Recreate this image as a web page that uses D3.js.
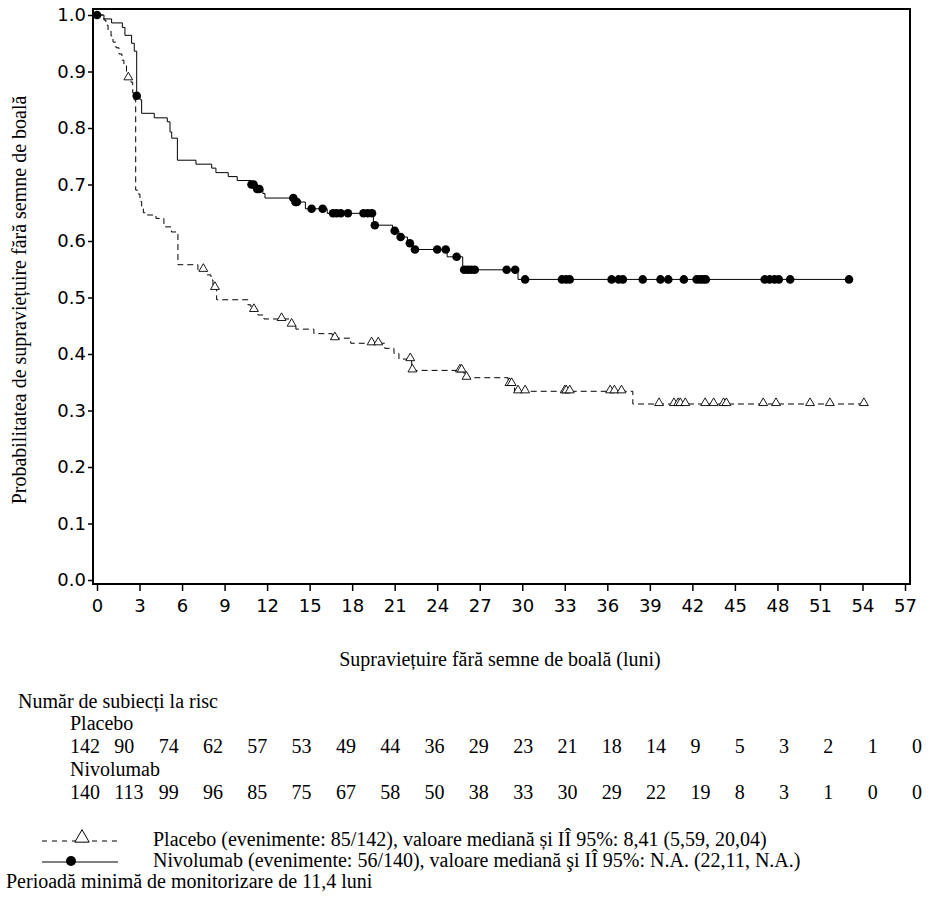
<!DOCTYPE html>
<html>
<head>
<meta charset="utf-8">
<script src="https://cdn.jsdelivr.net/npm/d3@7"></script>
<style>
  body { margin: 0; background: #fff; }
</style>
</head>
<body>
<div id="chart"></div>
<script>
// tick labels
const xTicks = [0, 3, 6, 9, 12, 15, 18, 21, 24, 27, 30, 33, 36, 39, 42, 45, 48, 51, 54, 57];
const yTicks = [0.0, 0.1, 0.2, 0.3, 0.4, 0.5, 0.6, 0.7, 0.8, 0.9, 1.0];

// Nivolumab: event times and survival after each step
const nivoTimes = [0.49, 1.03, 1.79, 1.97, 2.44, 2.63, 2.80, 3.03, 3.15, 4.04, 4.96, 5.15, 5.27, 5.67, 6.98, 8.09, 8.39, 9.26, 9.89,
  10.85, 11.2, 11.7, 11.85, 13.9, 14.7, 16.24, 19.5, 20.85, 21.3, 21.9, 22.3, 24.7, 25.8, 29.7];
const nivoSurv = [0.993, 0.986, 0.978, 0.964, 0.950, 0.936, 0.857, 0.850, 0.826, 0.818, 0.811, 0.793, 0.782, 0.743, 0.736, 0.729, 0.721, 0.714, 0.707,
  0.700, 0.692, 0.684, 0.676, 0.669, 0.657, 0.649, 0.628, 0.618, 0.607, 0.596, 0.585, 0.572, 0.549, 0.532];
const nivoCensored = [0, 2.8, 10.9, 11.05, 11.3, 11.45, 13.85, 14.0, 14.1, 15.14, 15.92, 16.65, 16.9, 17.2, 17.7, 18.8, 19.1, 19.4, 19.6,
  21.0, 21.42, 22.07, 22.43, 24.0, 24.6, 25.37, 25.9, 26.15, 26.4, 26.65, 28.9, 29.5, 30.2, 32.8, 33.1, 33.35, 36.3, 36.8, 37.1,
  38.5, 39.75, 40.3, 41.4, 42.3, 42.55, 42.75, 42.95, 47.1, 47.45, 47.8, 48.1, 48.9, 53.05];

// Placebo
const placTimes = [0.49, 0.63, 0.78, 0.99, 1.13, 1.34, 1.55, 1.76, 1.90, 2.08, 2.15, 2.40, 2.52, 2.62, 2.73, 2.92, 3.03, 3.15, 3.27, 3.55,
  4.16, 4.72, 5.25, 5.71, 7.12, 7.7, 8.04, 8.18, 8.44, 10.65, 10.86, 11.35, 11.78, 13.6, 14.03, 15.3, 16.6, 17.9, 20.3, 20.95, 21.3,
  22.2, 25.9, 29.0, 29.45, 37.8];
const placSurv = [0.991, 0.982, 0.973, 0.963, 0.952, 0.942, 0.931, 0.920, 0.910, 0.899, 0.888, 0.881, 0.862, 0.850, 0.690, 0.683, 0.670, 0.658, 0.650, 0.646,
  0.640, 0.625, 0.616, 0.558, 0.549, 0.540, 0.531, 0.517, 0.496, 0.487, 0.478, 0.469, 0.462, 0.452, 0.444, 0.436, 0.428, 0.419, 0.410, 0.401, 0.391,
  0.371, 0.358, 0.347, 0.334, 0.3115];
const placCensored = [2.21, 7.5, 8.32, 11.07, 13.02, 13.73, 16.78, 19.37, 19.84, 22.1, 22.25, 25.6, 25.72, 26.07, 29.1, 29.25, 29.7, 30.2,
  33.0, 33.1, 33.35, 36.2, 36.5, 37.0, 39.65, 40.7, 41.0, 41.15, 41.5, 42.9, 43.5, 44.2, 44.4, 47.0, 47.9, 50.3, 51.7, 54.1];

// number at risk
const riskPlacebo = [142, 90, 74, 62, 57, 53, 49, 44, 36, 29, 23, 21, 18, 14, 9, 5, 3, 2, 1, 0];
const riskNivo = [140, 113, 99, 96, 85, 75, 67, 58, 50, 38, 33, 30, 29, 22, 19, 8, 3, 1, 0, 0];

const legendPlacebo = "Placebo (evenimente: 85/142), valoare mediană și IÎ 95%: 8,41 (5,59, 20,04)";
const legendNivo = "Nivolumab (evenimente: 56/140), valoare mediană şi IÎ 95%: N.A. (22,11, N.A.)";
const footnote = "Perioadă minimă de monitorizare de 11,4 luni";

const width = 934, height = 908;
const plot = {left: 93, right: 910, top: 9, bottom: 584};
const serif = "'Liberation Serif', 'DejaVu Serif', 'Times New Roman', serif";
const sans = "'DejaVu Sans', Verdana, sans-serif";

var svg = d3.select("#chart").append("svg")
  .attr("width", width)
  .attr("height", height);

var x = d3.scaleLinear().domain([0, 57]).range([97, 905]);
var y = d3.scaleLinear().domain([0, 1]).range([580, 15]);

// frame
svg.append("rect")
  .attr("x", plot.left).attr("y", plot.top)
  .attr("width", plot.right - plot.left).attr("height", plot.bottom - plot.top)
  .attr("fill", "none").attr("stroke", "#000").attr("stroke-width", 2);

// axes
var xAxis = svg.append("g")
  .attr("transform", "translate(0," + plot.bottom + ")")
  .call(d3.axisBottom(x).tickValues(xTicks).tickSize(7).tickPadding(8).tickFormat(d3.format("d")));
var yAxis = svg.append("g")
  .attr("transform", "translate(" + plot.left + ",0)")
  .call(d3.axisLeft(y).tickValues(yTicks).tickSize(5).tickPadding(2).tickFormat(d3.format(".1f")));
[xAxis, yAxis].forEach(g => {
  g.select(".domain").remove();
  g.selectAll(".tick line").attr("stroke", "#000").attr("stroke-width", 1.5);
  g.selectAll(".tick text").attr("fill", "#000")
    .style("font-family", sans)
    .style("font-size", "18px");
});

// axis titles
svg.append("text")
  .attr("text-anchor", "middle")
  .attr("transform", "translate(26,300) rotate(-90)")
  .style("font-family", serif)
  .style("font-size", "20px")
  .text("Probabilitatea de supraviețuire fără semne de boală");

svg.append("text")
  .attr("text-anchor", "middle")
  .attr("x", 500).attr("y", 666)
  .style("font-family", serif)
  .style("font-size", "20px")
  .text("Supraviețuire fără semne de boală (luni)");

// step curve helpers
function stepPoints(times, surv, lastT) {
  let pts = [[0, 1]];
  times.forEach((t, i) => pts.push([t, surv[i]]));
  pts.push([lastT, surv[surv.length - 1]]);
  return pts;
}
function survAt(times, surv, t) {
  let s = 1;
  times.forEach((tt, i) => { if (tt <= t) s = surv[i]; });
  return s;
}

var line = d3.line()
  .x(d => x(d[0]))
  .y(d => y(d[1]))
  .curve(d3.curveStepAfter);

// placebo curve
svg.append("path")
  .datum(stepPoints(placTimes, placSurv, d3.max(placCensored)))
  .attr("d", line)
  .attr("fill", "none")
  .attr("stroke", "#000")
  .attr("stroke-width", 1)
  .attr("stroke-dasharray", "6,4");

// nivolumab curve
svg.append("path")
  .datum(stepPoints(nivoTimes, nivoSurv, d3.max(nivoCensored)))
  .attr("d", line)
  .attr("fill", "none")
  .attr("stroke", "#000")
  .attr("stroke-width", 1);

var tri = d3.symbol().type(d3.symbolTriangle).size(34);

// censor marks
svg.append("g").selectAll("path")
  .data(placCensored)
  .join("path")
  .attr("d", tri)
  .attr("transform", d => "translate(" + x(d) + "," + (y(survAt(placTimes, placSurv, d)) - 1) + ")")
  .attr("fill", "#fff")
  .attr("stroke", "#000")
  .attr("stroke-width", 0.9);

svg.append("g").selectAll("circle")
  .data(nivoCensored)
  .join("circle")
  .attr("cx", d => x(d))
  .attr("cy", d => y(survAt(nivoTimes, nivoSurv, d)))
  .attr("r", 4.3)
  .attr("fill", "#000");

// number at risk table
var riskCol = d3.scalePoint().domain(d3.range(riskPlacebo.length)).range([70, 912]);

function label(xx, yy, txt) {
  return svg.append("text")
    .attr("x", xx).attr("y", yy)
    .style("font-family", serif)
    .style("font-size", "20px")
    .text(txt);
}

label(18, 708, "Număr de subiecți la risc");
label(70, 730, "Placebo");
label(70, 776, "Nivolumab");

[[riskPlacebo, 753], [riskNivo, 799]].forEach(([row, yy]) => {
  svg.append("g").selectAll("text")
    .data(row)
    .join("text")
    .attr("x", (d, i) => riskCol(i))
    .attr("y", yy)
    .style("font-family", serif)
    .style("font-size", "20px")
    .text(d => d);
});

// legend
var lg = svg.append("g");
lg.append("line")
  .attr("x1", 42).attr("x2", 120).attr("y1", 841).attr("y2", 841)
  .attr("stroke", "#000").attr("stroke-dasharray", "5,5");
lg.append("path")
  .attr("d", d3.symbol().type(d3.symbolTriangle).size(90))
  .attr("transform", "translate(82,838)")
  .attr("fill", "#fff").attr("stroke", "#000");
label(153, 846, legendPlacebo);

lg.append("line")
  .attr("x1", 42).attr("x2", 118).attr("y1", 862).attr("y2", 862)
  .attr("stroke", "#000");
lg.append("circle")
  .attr("cx", 71).attr("cy", 861).attr("r", 5).attr("fill", "#000");
label(153, 867, legendNivo);

label(6, 888, footnote);
</script>
</body>
</html>
